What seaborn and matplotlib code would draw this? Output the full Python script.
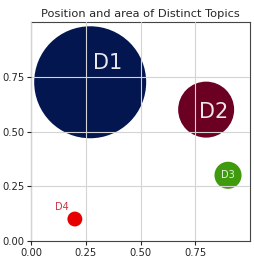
import pandas as pd
import matplotlib.pyplot as plt
import seaborn as sns

# Datos de los tópicos
topics = ['D1', 'D2', 'D3', 'D4']
pos_x = [0.27, 0.80, 0.90, 0.20]
pos_y = [0.725, 0.60, 0.30, 0.10]
area = [6500, 1625, 380, 115]
colors = ['#041650', '#6b0023', '#3f9a0e', '#e60000']

df = pd.DataFrame({'topic': topics, 'x': pos_x, 'y': pos_y, 'area': area})

sns.set_style('ticks', {'axes.grid': True, 'grid.color': '#d4d4d4',
                        'axes.edgecolor': '#444444'})
plt.rcParams['font.family'] = ['DejaVu Sans']

fig = plt.figure(figsize=(2.55, 2.63), dpi=100)
ax = fig.add_axes([0.122, 0.084, 0.858, 0.832])
sns.scatterplot(data=df, x='x', y='y', hue='topic', size='area',
                palette=dict(zip(topics, colors)),
                sizes=(min(area), max(area)), size_norm=(min(area), max(area)),
                linewidth=0, legend=False, ax=ax)
ax.set_axisbelow(False)
for l in ax.get_xgridlines() + ax.get_ygridlines():
    l.set_zorder(1.5)

# Etiquetas
ax.text(0.35, 0.815, 'D1', color='#e8e8f0', fontsize=15, ha='center', va='center')
ax.text(0.835, 0.59, 'D2', color='#f0e8ea', fontsize=15, ha='center', va='center')
ax.text(0.90, 0.30, 'D3', color='#e8f4e0', fontsize=7, ha='center', va='center')
ax.text(0.14, 0.155, 'D4', color='#cc3344', fontsize=7, ha='center', va='center')

ax.set_xlim(0, 1)
ax.set_ylim(0, 1)
ax.set_xticks([0, 0.25, 0.5, 0.75])
ax.set_yticks([0, 0.25, 0.5, 0.75])
ax.tick_params(labelsize=7.2, length=3, width=0.8, pad=2)
ax.set_xlabel('')
ax.set_ylabel('')
ax.set_title('Position and area of Distinct Topics', fontsize=8.2, pad=4)
for s in ax.spines.values():
    s.set_linewidth(0.8)

fig.savefig('out.png', dpi=100)
